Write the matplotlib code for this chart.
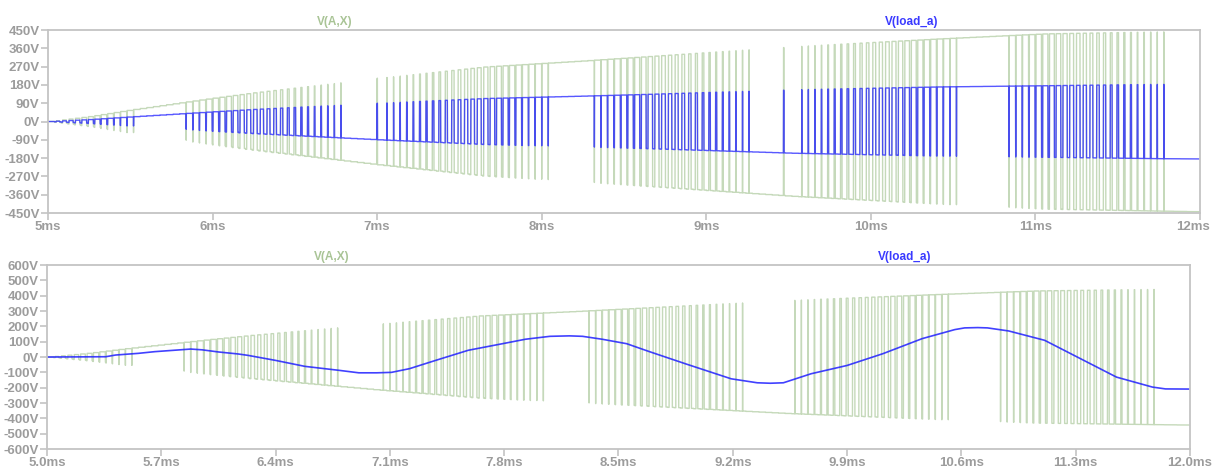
import numpy as np
import matplotlib.pyplot as plt
from matplotlib import transforms

plt.rcParams['font.family'] = ['Liberation Sans', 'DejaVu Sans']

# 시간 구간 (ms)
t_start, t_end = 5.0, 12.0

# V(A,X) 포락선 (DC 링크 상승)
env_t = [5.0, 5.25, 5.5, 6.0, 6.23, 7.0, 7.64, 8.25, 8.65, 9.52, 10.4, 11.05, 11.77, 12.0]
env_v = [0, 25, 57, 115, 140, 213, 268, 298, 320, 368, 406, 431, 441, 444]
# V(load_a) 포락선 (위 그래프)
load_env_v = [0, 10, 23, 48, 59, 90, 113, 125, 134, 156, 170, 176, 183, 184]

# PWM 설정
carrier_ms = 0.04
ref_period_ms = 2.5
ref_peak_ms = 5.675
mod_index = 1.06
# 위 그래프에서 홀드 구간 안에 튀는 펄스
spike_ms = [7.0, 9.47]

# 아래 그래프 V(load_a) (필터 출력)
load_t = [5.0, 5.2, 5.36, 5.42, 5.56, 5.66, 5.79, 5.88, 5.95, 6.05, 6.17, 6.23, 6.40,
          6.58, 6.79, 6.91, 7.02, 7.11, 7.22, 7.38, 7.58, 7.79, 7.93, 8.08, 8.20,
          8.28, 8.40, 8.55, 8.69, 8.91, 9.19, 9.35, 9.43, 9.51, 9.68, 9.90, 10.12,
          10.36, 10.56, 10.62, 10.70, 10.76, 10.89, 11.11, 11.33, 11.55, 11.77,
          11.85, 12.0]
load_v = [0, 1, 2, 13, 24, 35, 45, 52, 47, 33, 20, 11, -22,
          -61, -87, -103, -103, -100, -76, -22, 44, 87, 116, 135, 138,
          135, 116, 87, 35, -44, -142, -168, -171, -168, -109, -55, 22,
          120, 179, 190, 192, 190, 170, 109, -11, -131, -196,
          -208, -209]

top_ticks = [450, 360, 270, 180, 90, 0, -90, -180, -270, -360, -450]
bot_ticks = [600, 500, 400, 300, 200, 100, 0, -100, -200, -300, -400, -500, -600]
top_xticks = [5, 6, 7, 8, 9, 10, 11, 12]
bot_xticks = [5.0, 5.7, 6.4, 7.1, 7.8, 8.5, 9.2, 9.9, 10.6, 11.3, 12.0]

# 스위칭 파형 만들기
dt = 0.0005
t = np.arange(t_start, t_end + dt, dt)
ref = mod_index * np.cos(2 * np.pi * (t - ref_peak_ms) / ref_period_ms)
phase = ((t - t_start) / carrier_ms) % 1.0
tri = 2 * np.abs(2 * phase - 1) - 1
state = np.where(ref >= tri, 1.0, -1.0)

# 캐리어 주기마다 샘플된 포락선 (계단 모양)
t_hold = t_start + np.floor((t - t_start) / carrier_ms) * carrier_ms
env = np.interp(t_hold, env_t, env_v)
load_env = np.interp(t_hold, env_t, load_env_v)

state_top = state.copy()
for s in spike_ms:
    state_top[np.abs(t - s) < 0.0015] *= -1

green_col = '#7fab66'
blue_col = '#2020ff'
grid_col = '#c4c4c4'
txt_col = '#9c9c9c'

fig = plt.figure(figsize=(12.14, 4.69), dpi=100)
ax1 = fig.add_axes([0.0395, 0.5458, 0.949, 0.3902])
ax2 = fig.add_axes([0.0387, 0.0426, 0.9415, 0.3923])

ax1.plot(t, state_top * env, color=green_col, lw=1.0, alpha=0.45)
ax1.plot(t, state_top * load_env, color=blue_col, lw=1.0, alpha=0.75)

ax2.plot(t, state * env, color=green_col, lw=1.0, alpha=0.45)
ax2.plot(load_t, load_v, color=blue_col, lw=1.2, alpha=0.85)

for ax, yt, xt, xfmt, ylim in [(ax1, top_ticks, top_xticks, '{:g}ms', 450),
                               (ax2, bot_ticks, bot_xticks, '{:.1f}ms', 600)]:
    ax.set_xlim(t_start, t_end)
    ax.set_ylim(-ylim, ylim)
    ax.set_yticks(yt)
    ax.set_yticklabels(['{}V'.format(v) for v in yt])
    ax.set_xticks(xt)
    ax.set_xticklabels([xfmt.format(v) for v in xt])
    for sp in ax.spines.values():
        sp.set_color(grid_col)
        sp.set_linewidth(1.3)
    ax.tick_params(colors=grid_col, labelcolor=txt_col, length=5, width=1.2,
                   labelsize=9.5, pad=1)
    for lab in ax.get_xticklabels() + ax.get_yticklabels():
        lab.set_fontweight('bold')
    # 트레이스 이름
    ax.text(0.249, 1.044, 'V(A,X)', transform=ax.transAxes, color='#a9c496',
            fontsize=8.5, fontweight='bold', ha='center', va='center')
    ax.text(0.75, 1.044, 'V(load_a)', transform=ax.transAxes, color='#3a3aff',
            fontsize=8.5, fontweight='bold', ha='center', va='center')

# 오른쪽 끝 라벨이 잘리지 않게 조금 왼쪽으로
last = ax1.get_xticklabels()[-1]
last.set_transform(last.get_transform() + transforms.ScaledTranslation(-5 / 72, 0, fig.dpi_scale_trans))

fig.savefig('out.png', dpi=100)
